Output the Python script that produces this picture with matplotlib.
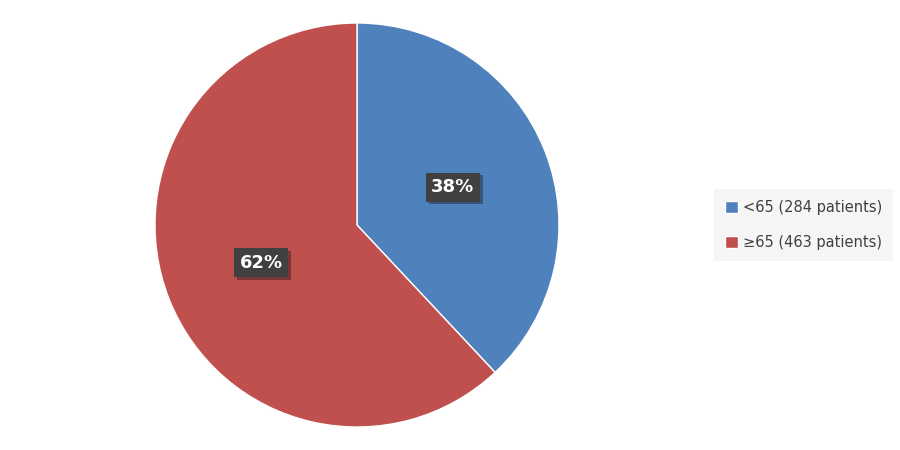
import matplotlib.pyplot as plt
import matplotlib.patheffects as pe

labels = ['<65 (284 patients)', '≥65 (463 patients)']
counts = [284, 463]
colors = ['#4F81BD', '#C0504D']

fig = plt.figure(figsize=(9, 4.5), dpi=100)
ax = fig.add_axes([155 / 900, 23 / 450, 404 / 900, 404 / 450])

wedges, texts, autotexts = ax.pie(
    counts, colors=colors, startangle=90, counterclock=False,
    autopct=lambda p: f'{p:.0f}%', pctdistance=0.51,
    wedgeprops=dict(edgecolor='white', linewidth=1),
    textprops=dict(color='white', fontsize=13, fontweight='bold'))

for t in autotexts:
    t.set_bbox(dict(boxstyle='square,pad=0.3', facecolor='#404040', edgecolor='none',
                    path_effects=[pe.SimplePatchShadow(offset=(2, -2), alpha=0.4), pe.Normal()]))

ax.set_xlim(-1, 1)
ax.set_ylim(-1, 1)
ax.set_aspect('equal')

leg = fig.legend(wedges, labels, loc='center left', bbox_to_anchor=(714 / 900, 225 / 450),
                 borderaxespad=0, frameon=True, facecolor='#f4f4f4', edgecolor='none',
                 fancybox=False, fontsize=10.5, handlelength=0.9, handleheight=0.9,
                 handletextpad=0.35, labelspacing=1.35, borderpad=0.75)
for t in leg.get_texts():
    t.set_color('#404040')

fig.savefig('out.png', dpi=100)
